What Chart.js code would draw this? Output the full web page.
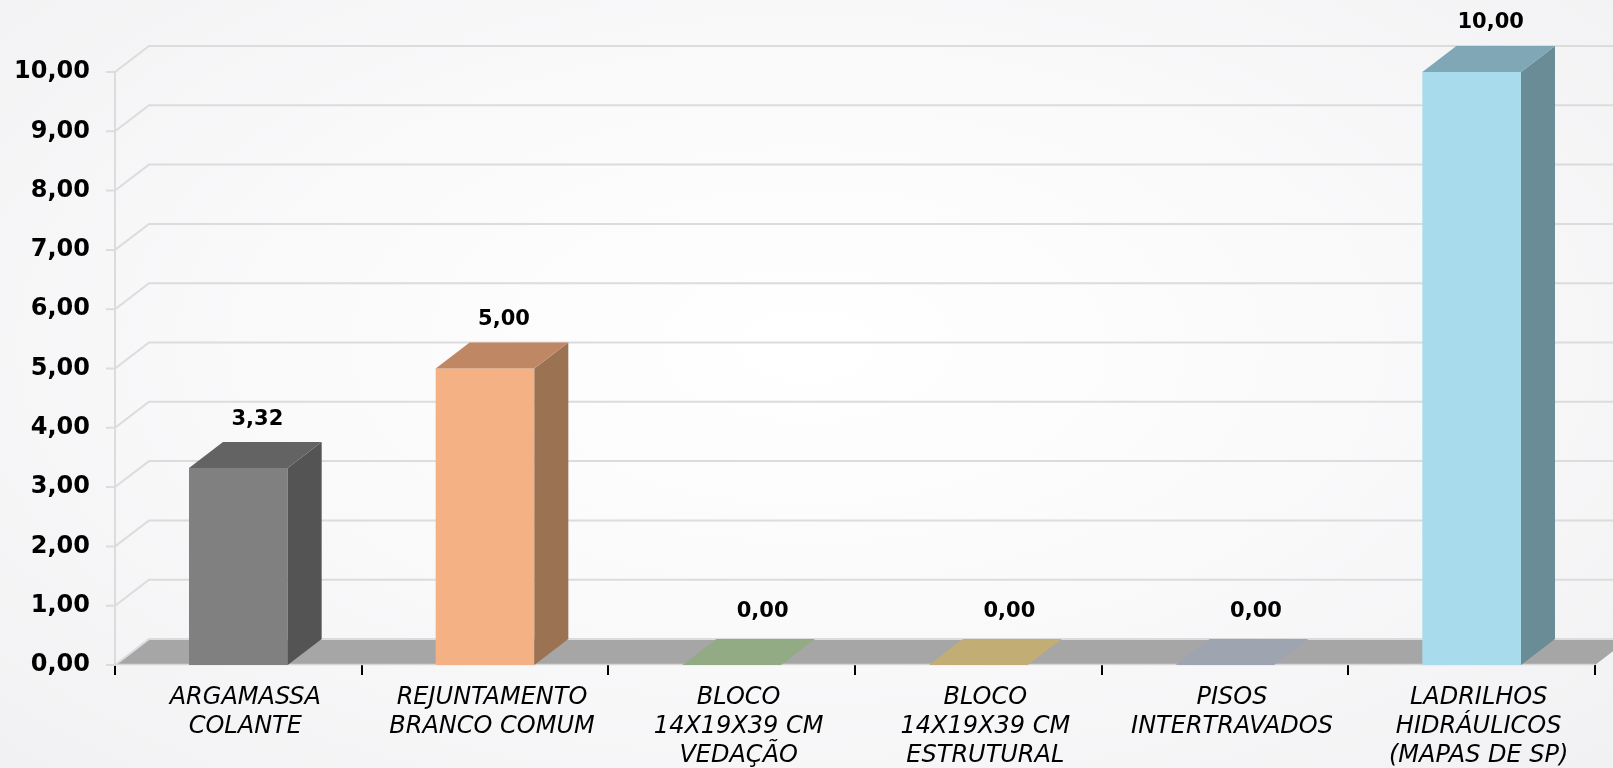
<!DOCTYPE html>
<html>
<head>
<meta charset="utf-8">
<script src="https://cdn.jsdelivr.net/npm/chart.js@4.4.1/dist/chart.umd.min.js"></script>
<style>
  html, body { margin: 0; padding: 0; }
  body {
    width: 1613px; height: 768px; overflow: hidden;
    background: radial-gradient(ellipse at 50% 45%, #ffffff 0%, #fafafb 45%, #f1f1f3 100%);
  }
  canvas { display: block; }
</style>
</head>
<body>
<canvas id="chart" width="1613" height="768"></canvas>
<script>
// data
const categories = [
  ['ARGAMASSA', 'COLANTE'],
  ['REJUNTAMENTO', 'BRANCO COMUM'],
  ['BLOCO', '14X19X39 CM', 'VEDAÇÃO'],
  ['BLOCO', '14X19X39 CM', 'ESTRUTURAL'],
  ['PISOS', 'INTERTRAVADOS'],
  ['LADRILHOS', 'HIDRÁULICOS', '(MAPAS DE SP)']
];
const values = [3.32, 5.00, 0.00, 0.00, 0.00, 10.00];
const yMin = 0, yMax = 10, yStep = 1;

// bar face colours
const frontColors = ['#808080', '#f4b183', '#a9d18e', '#ffd966', '#8faadc', '#a8dcec'];
const sideColors  = ['#545454', '#9c7352', '#6e8a5c', '#a68f43', '#5e7291', '#6a8c96'];
const topColors   = ['#636363', '#bf8763', '#93ab84', '#c2ae74', '#9ea4b0', '#7fa7b5'];

const DX = 34, DY = 26;   // 3d depth offset
const FONT = '"DejaVu Sans", Verdana, sans-serif';
const fmt = v => v.toFixed(2).replace('.', ',');

function poly(ctx, pts, color) {
  ctx.fillStyle = color;
  ctx.beginPath();
  ctx.moveTo(pts[0][0], pts[0][1]);
  for (let i = 1; i < pts.length; i++) ctx.lineTo(pts[i][0], pts[i][1]);
  ctx.closePath();
  ctx.fill();
}

const walls = {
  id: 'walls',
  beforeDatasetsDraw(chart) {
    const { ctx, chartArea: a, scales: { y } } = chart;
    const y0 = y.getPixelForValue(yMin);
    ctx.save();
    // floor
    poly(ctx, [[a.left, y0], [a.right, y0], [a.right + DX, y0 - DY], [a.left + DX, y0 - DY]], '#a6a6a6');
    ctx.strokeStyle = '#d6d6d6';
    ctx.lineWidth = 1.5;
    ctx.beginPath();
    ctx.moveTo(a.left, y0 - 0.5);
    ctx.lineTo(a.right, y0 - 0.5);
    ctx.stroke();
    // gridlines on side + back wall
    ctx.strokeStyle = '#dcdcdc';
    ctx.lineWidth = 2;
    ctx.beginPath();
    ctx.moveTo(a.left, y.getPixelForValue(yMax));
    ctx.lineTo(a.left, y0);
    ctx.stroke();
    y.ticks.forEach(t => {
      const py = y.getPixelForValue(t.value);
      ctx.beginPath();
      ctx.moveTo(a.left - 9, py);
      ctx.lineTo(a.left, py);
      ctx.lineTo(a.left + DX, py - DY);
      ctx.lineTo(a.right + DX, py - DY);
      ctx.stroke();
    });
    ctx.restore();
  },
  afterDatasetsDraw(chart) {
    const { ctx } = chart;
    const meta = chart.getDatasetMeta(0);
    ctx.save();
    meta.data.forEach((bar, i) => {
      const { x, y, base, width } = bar.getProps(['x', 'y', 'base', 'width'], true);
      const x0 = x - width / 2, x1 = x + width / 2;
      const flat = base - y < 0.5;
      if (!flat) {
        poly(ctx, [[x1, y], [x1 + DX, y - DY], [x1 + DX, base - DY], [x1, base]], sideColors[i]);
      }
      poly(ctx, [[x0, y], [x1, y], [x1 + DX, y - DY], [x0 + DX, y - DY]], topColors[i]);

      ctx.fillStyle = '#000';
      ctx.font = 'bold 21px ' + FONT;
      ctx.textAlign = 'center';
      ctx.textBaseline = 'middle';
      const lx = flat ? x + DX - 3 : x + DX / 2 + 2;
      const ly = flat ? y - DY - 27 : y - DY - 23;
      ctx.fillText(fmt(values[i]), lx, ly);
    });
    ctx.restore();
  }
};

new Chart(document.getElementById('chart'), {
  type: 'bar',
  data: {
    labels: categories,
    datasets: [{
      data: values,
      backgroundColor: frontColors,
      borderWidth: 0,
      categoryPercentage: 1,
      barPercentage: 0.4
    }]
  },
  options: {
    responsive: false,
    animation: false,
    devicePixelRatio: 1,
    layout: { padding: { top: 72, right: 18, left: 0, bottom: 0 } },
    plugins: { legend: { display: false }, tooltip: { enabled: false } },
    scales: {
      x: {
        offset: true,
        grid: { display: true, drawOnChartArea: false, drawTicks: true, tickLength: 10, color: '#000', lineWidth: 2, offset: true },
        border: { display: false },
        ticks: {
          autoSkip: false, maxRotation: 0, minRotation: 0, padding: 8,
          labelOffset: 7,
          color: '#000',
          font: { family: FONT, size: 24, style: 'italic', lineHeight: 1.21 }
        },
        afterFit(scale) { scale.height = 103; }
      },
      y: {
        min: yMin, max: yMax,
        grid: { display: false, drawTicks: false },
        border: { display: false },
        ticks: {
          stepSize: yStep, padding: 25, color: '#000',
          font: { family: FONT, size: 24, weight: 'bold' },
          callback: v => fmt(v)
        },
        afterFit(scale) { scale.width = 115; }
      }
    }
  },
  plugins: [walls]
});
</script>
</body>
</html>
